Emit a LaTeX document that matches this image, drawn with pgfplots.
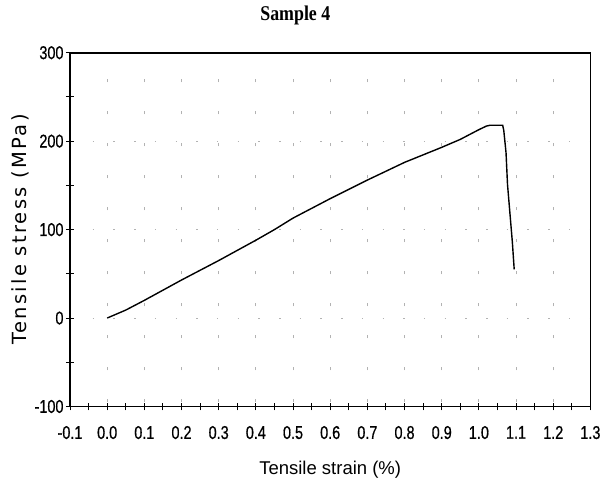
\documentclass[border=0pt]{standalone}
\usepackage{fontspec}
\setmainfont{DejaVu Sans}
\newfontfamily\tickfam{Liberation Sans}[FakeStretch=0.78, FakeBold=0.6]
\newfontfamily\xlabfam{Liberation Sans}
\newfontfamily\ylabfam{DejaVu Sans}[LetterSpace=12]
\newfontfamily\titlefam{Liberation Serif}[FakeStretch=0.85]
\usepackage{pgfplots}
\pgfplotsset{compat=1.18}

\begin{document}
\begin{tikzpicture}
\useasboundingbox (0,0) rectangle (602bp,479bp);
\begin{axis}[
    at={(70bp,72.5bp)}, anchor=south west,
    scale only axis,
    width=520.4bp, height=353.8bp,
    xmin=-0.1, xmax=1.3, ymin=-100, ymax=300,
    xtick={-0.1,0,0.1,0.2,0.3,0.4,0.5,0.6,0.7,0.8,0.9,1.0,1.1,1.2,1.3},
    xticklabels={-0.1,0.0,0.1,0.2,0.3,0.4,0.5,0.6,0.7,0.8,0.9,1.0,1.1,1.2,1.3},
    minor xtick={-0.05,0.05,0.15,0.25,0.35,0.45,0.55,0.65,0.75,0.85,0.95,1.05,1.15,1.25},
    ytick={-100,0,100,200,300},
    yticklabels={-100,0,100,200,300},
    minor ytick={-50,50,150,250},
    tick pos=left, tick align=center,
    major tick length=8bp, minor tick length=8bp,
    every tick/.style={black, line width=1bp},
    axis line style={black, line width=1.8bp},
    grid=major,
    major x grid style={gray!60, line width=1bp, dash pattern=on 3bp off 29bp, dash phase=28bp},
    major y grid style={gray!60, line width=1bp, dash pattern=on 1.5bp off 19.2bp, dash phase=18.7bp},
    xticklabel style={font=\tickfam\fontsize{18.5bp}{20bp}\selectfont, yshift=-12bp},
    yticklabel style={font=\tickfam\fontsize{18.5bp}{20bp}\selectfont, xshift=1bp},
    title={\titlefam\bfseries\fontsize{21bp}{24bp}\selectfont Sample 4},
    title style={at={(axis description cs:0.433,1.0755)}, anchor=base},
    xlabel={\xlabfam\fontsize{18.5bp}{22bp}\selectfont Tensile strain (\%)},
    xlabel style={at={(axis description cs:0.5,-0.1936)}, anchor=base},
    ylabel={\ylabfam\fontsize{19.5bp}{22bp}\selectfont Tensile stress (MPa)},
    ylabel style={at={(axis description cs:-0.0832,0.5)}, anchor=base},
]
\addplot[black, line width=1.4bp] coordinates {
    (0.0, 0)
    (0.05, 9)
    (0.1, 20)
    (0.2, 43)
    (0.3, 65)
    (0.4, 88)
    (0.45, 100)
    (0.5, 113)
    (0.6, 135)
    (0.7, 156)
    (0.8, 176)
    (0.9, 193)
    (0.95, 202)
    (1.0, 213)
    (1.02, 217)
    (1.03, 218)
    (1.064, 218)
    (1.067, 212)
    (1.073, 187)
    (1.077, 151)
    (1.084, 116)
    (1.09, 86)
    (1.095, 55)
};
\end{axis}
\end{tikzpicture}
\end{document}
